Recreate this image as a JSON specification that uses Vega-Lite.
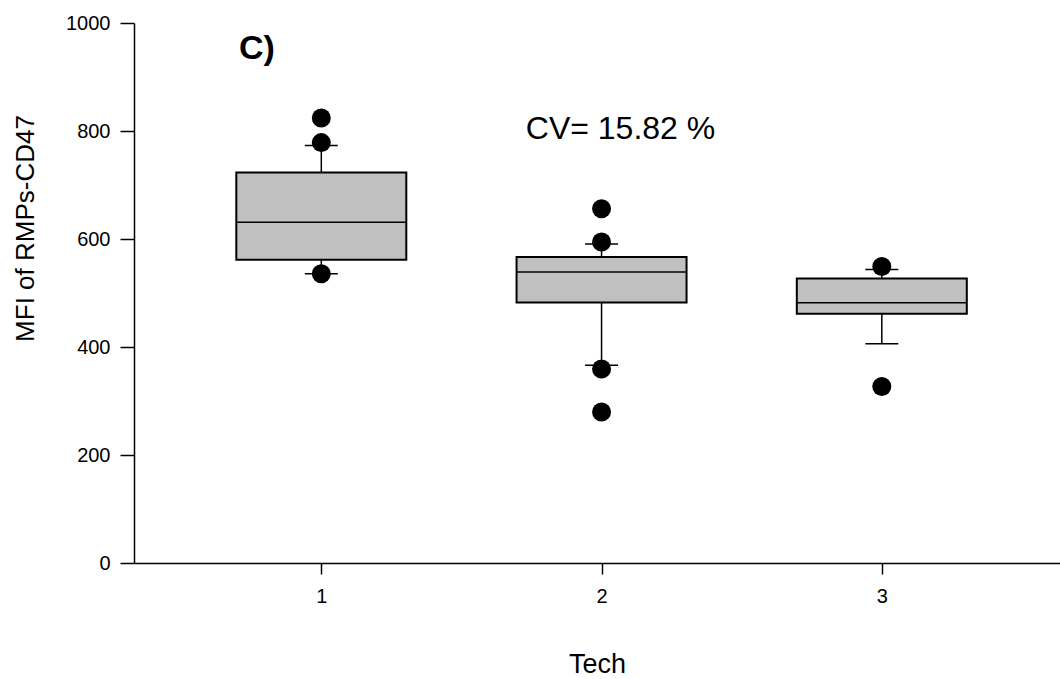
{
  "$schema": "https://vega.github.io/schema/vega-lite/v6.json",
  "width": 926,
  "height": 540,
  "autosize": {"type": "none"},
  "padding": {"left": 134, "top": 23, "right": 0, "bottom": 116},
  "background": "white",
  "config": {
    "view": {"stroke": null},
    "font": "Liberation Sans",
    "axis": {
      "grid": false,
      "domainColor": "black",
      "domainWidth": 1.5,
      "tickColor": "black",
      "tickWidth": 1.5,
      "labelColor": "black",
      "titleColor": "black",
      "labelFont": "Liberation Sans",
      "titleFont": "Liberation Sans",
      "titleFontWeight": "normal",
      "labelFontSize": 20
    }
  },
  "datasets": {
    "boxes": [
      {"tech": 1, "lo": 535.6, "q1": 561.5, "median": 631, "q3": 723, "hi": 773},
      {"tech": 2, "lo": 366, "q1": 482.5, "median": 538.8, "q3": 566.5, "hi": 590.6},
      {"tech": 3, "lo": 406, "q1": 461.6, "median": 482, "q3": 527, "hi": 543.6}
    ],
    "outliers": [
      {"tech": 1, "value": 824},
      {"tech": 1, "value": 778.5},
      {"tech": 1, "value": 535.6},
      {"tech": 2, "value": 655.9},
      {"tech": 2, "value": 594.3},
      {"tech": 2, "value": 359.3},
      {"tech": 2, "value": 279.7},
      {"tech": 3, "value": 549},
      {"tech": 3, "value": 327}
    ]
  },
  "layer": [
    {
      "data": {"name": "boxes"},
      "mark": {"type": "rule", "color": "black", "strokeWidth": 1.5},
      "encoding": {
        "x": {
          "field": "tech",
          "type": "quantitative",
          "scale": {"domain": [0.3495, 3.618], "nice": false, "zero": false},
          "axis": {
            "values": [1, 2, 3],
            "format": "d",
            "tickSize": 11,
            "labelPadding": 12,
            "labelFontSize": 20,
            "title": "Tech",
            "titleFontSize": 27,
            "titleY": 109,
            "titleBaseline": "alphabetic"
          }
        },
        "y": {
          "field": "lo",
          "type": "quantitative",
          "scale": {"domain": [0, 1000], "nice": false},
          "axis": {
            "values": [0, 200, 400, 600, 800, 1000],
            "format": "d",
            "tickSize": 14,
            "labelPadding": 10,
            "labelFontSize": 20,
            "title": "MFI of RMPs-CD47",
            "titleFontSize": 26,
            "titleX": -101,
            "titleY": 205,
            "titleAngle": -90,
            "titleAlign": "center",
            "titleBaseline": "alphabetic"
          }
        },
        "y2": {"field": "q1"}
      }
    },
    {
      "data": {"name": "boxes"},
      "mark": {"type": "rule", "color": "black", "strokeWidth": 1.5},
      "encoding": {
        "x": {"field": "tech", "type": "quantitative"},
        "y": {"field": "q3", "type": "quantitative"},
        "y2": {"field": "hi"}
      }
    },
    {
      "data": {"name": "boxes"},
      "mark": {"type": "bar", "orient": "vertical", "size": 170, "fill": "#c0c0c0", "stroke": "black", "strokeWidth": 2},
      "encoding": {
        "x": {"field": "tech", "type": "quantitative"},
        "y": {"field": "q1", "type": "quantitative"},
        "y2": {"field": "q3"}
      }
    },
    {
      "data": {"name": "boxes"},
      "mark": {"type": "tick", "orient": "horizontal", "size": 170, "thickness": 1.5, "color": "black", "opacity": 1},
      "encoding": {
        "x": {"field": "tech", "type": "quantitative"},
        "y": {"field": "median", "type": "quantitative"}
      }
    },
    {
      "data": {"name": "boxes"},
      "mark": {"type": "tick", "orient": "horizontal", "size": 33, "thickness": 1.5, "color": "black", "opacity": 1},
      "encoding": {
        "x": {"field": "tech", "type": "quantitative"},
        "y": {"field": "hi", "type": "quantitative"}
      }
    },
    {
      "data": {"name": "boxes"},
      "mark": {"type": "tick", "orient": "horizontal", "size": 33, "thickness": 1.5, "color": "black", "opacity": 1},
      "encoding": {
        "x": {"field": "tech", "type": "quantitative"},
        "y": {"field": "lo", "type": "quantitative"}
      }
    },
    {
      "data": {"name": "outliers"},
      "mark": {"type": "point", "shape": "circle", "filled": true, "color": "black", "opacity": 1, "size": 361},
      "encoding": {
        "x": {"field": "tech", "type": "quantitative"},
        "y": {"field": "value", "type": "quantitative"}
      }
    },
    {
      "data": {"values": [{}]},
      "mark": {"type": "text", "text": "CV= 15.82 %", "fontSize": 32, "align": "left", "baseline": "alphabetic", "color": "black"},
      "encoding": {
        "x": {"datum": 1.7296, "type": "quantitative"},
        "y": {"datum": 785.4, "type": "quantitative"}
      }
    },
    {
      "data": {"values": [{}]},
      "mark": {"type": "text", "text": "C)", "fontSize": 34, "fontWeight": "bold", "align": "left", "baseline": "alphabetic", "color": "black"},
      "encoding": {
        "x": {"datum": 0.706, "type": "quantitative"},
        "y": {"datum": 933.4, "type": "quantitative"}
      }
    }
  ]
}
